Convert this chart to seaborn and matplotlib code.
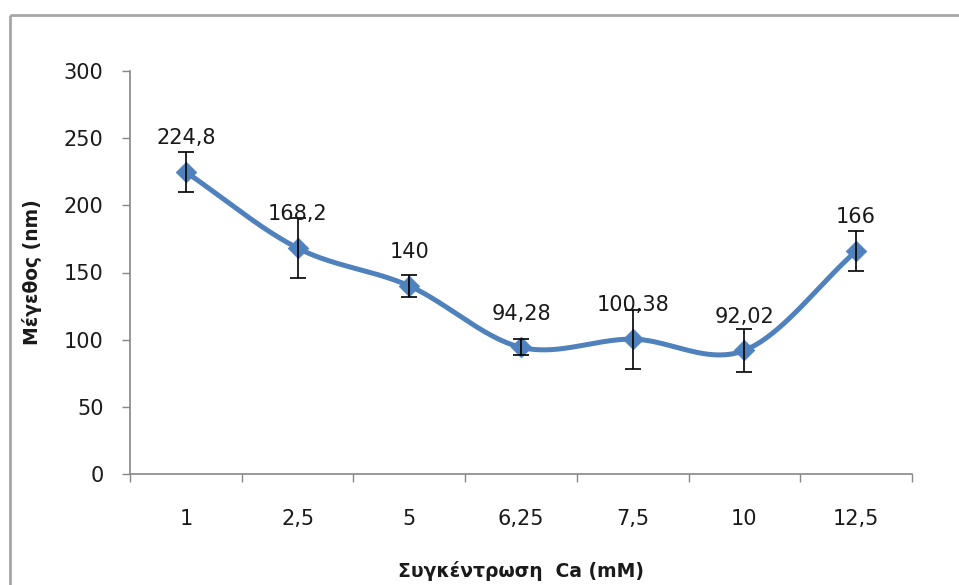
import numpy as np
import pandas as pd
import matplotlib
matplotlib.use("Agg")
import matplotlib.pyplot as plt
import seaborn as sns
from matplotlib.lines import Line2D

# Particle size vs. Ca concentration
concentrations = ["1", "2,5", "5", "6,25", "7,5", "10", "12,5"]
sizes = [224.8, 168.2, 140, 94.28, 100.38, 92.02, 166]
size_labels = ["224,8", "168,2", "140", "94,28", "100,38", "92,02", "166"]
errors = [15, 22, 8, 6, 22, 16, 15]
y_ticks = [0, 50, 100, 150, 200, 250, 300]

BLUE = "#4F81BD"
AXIS_GREY = "#868686"
TEXT = "#1a1a1a"

sns.set_theme(style="white")
plt.rcParams["font.family"] = ["DejaVu Sans"]


def catmull_rom(x, y, steps=40):
    """Smooth curve passing through every (x, y) point."""
    x = np.asarray(x, float)
    y = np.asarray(y, float)
    px = np.concatenate([[2 * x[0] - x[1]], x, [2 * x[-1] - x[-2]]])
    py = np.concatenate([[2 * y[0] - y[1]], y, [2 * y[-1] - y[-2]]])
    out_x, out_y = [], []
    t = np.linspace(0, 1, steps, endpoint=False)
    for i in range(1, len(px) - 2):
        for arr, out in ((px, out_x), (py, out_y)):
            p0, p1, p2, p3 = arr[i - 1], arr[i], arr[i + 1], arr[i + 2]
            seg = 0.5 * ((2 * p1) + (-p0 + p2) * t
                         + (2 * p0 - 5 * p1 + 4 * p2 - p3) * t ** 2
                         + (-p0 + 3 * p1 - 3 * p2 + p3) * t ** 3)
            out.extend(seg)
    out_x.append(x[-1])
    out_y.append(y[-1])
    return np.array(out_x), np.array(out_y)


pos = np.arange(len(sizes))
cx, cy = catmull_rom(pos, sizes)
curve = pd.DataFrame({"x": cx, "y": cy})
points = pd.DataFrame({"x": pos, "y": sizes})

fig = plt.figure(figsize=(9.59, 5.85), dpi=100)
ax = fig.add_axes([130 / 959, 1 - 474 / 585, 782 / 959, 403 / 585])

sns.lineplot(data=curve, x="x", y="y", ax=ax, color=BLUE, linewidth=3.6,
             sort=False, estimator=None, zorder=2)
sns.scatterplot(data=points, x="x", y="y", ax=ax, marker="D", s=110,
                color=BLUE, edgecolor=BLUE, linewidth=0.5, zorder=3)
ax.errorbar(pos, sizes, yerr=errors, fmt="none", ecolor="black",
            elinewidth=1.2, capsize=6, capthick=1.2, zorder=4)

for x, v, lab in zip(pos, sizes, size_labels):
    ax.annotate(lab, (x, v), xytext=(0, 20), textcoords="offset points",
                ha="center", va="baseline", fontsize=15, color=TEXT, zorder=5)

ax.set_xlim(-0.5, len(sizes) - 0.5)
ax.set_ylim(0, 300)
ax.set_yticks(y_ticks)
ax.set_yticklabels([str(t) for t in y_ticks])
ax.set_xlabel("")
ax.set_ylabel("")

# category boundaries carry the tick marks, category centres carry the labels
ax.set_xticks(np.arange(-0.5, len(sizes)), labels=[])
ax.set_xticks(pos, labels=concentrations, minor=True)
ax.tick_params(axis="x", which="major", direction="out", length=6,
               width=1, color=AXIS_GREY, bottom=True)
ax.tick_params(axis="x", which="minor", length=0, pad=25, labelsize=15,
               labelcolor=TEXT, bottom=True)
ax.tick_params(axis="y", direction="out", length=6, width=1,
               color=AXIS_GREY, pad=13, labelsize=15, labelcolor=TEXT, left=True)

for side in ("top", "right"):
    ax.spines[side].set_visible(False)
for side in ("left", "bottom"):
    ax.spines[side].set_color(AXIS_GREY)
    ax.spines[side].set_linewidth(1.2)

# axis titles placed in figure pixels
fig.text(521 / 959, 1 - 577 / 585, "Συγκέντρωση  Ca (mM)", fontsize=13.5,
         fontweight="bold", color=TEXT, ha="center", va="baseline")
fig.text(32 / 959, 1 - 272 / 585, "Μέγεθος (nm)", fontsize=13.5,
         fontweight="bold", color=TEXT, ha="center", va="center",
         rotation=90)

# chart-area frame
frame_kw = dict(color="#A6A6A6", linewidth=2, transform=fig.transFigure,
                solid_capstyle="butt")
fig.add_artist(Line2D([9.5 / 959, 1.02], [1 - 14.5 / 585] * 2, **frame_kw))
fig.add_artist(Line2D([9.5 / 959] * 2, [-0.02, 1 - 14.5 / 585], **frame_kw))

fig.savefig("out.png", dpi=100)
